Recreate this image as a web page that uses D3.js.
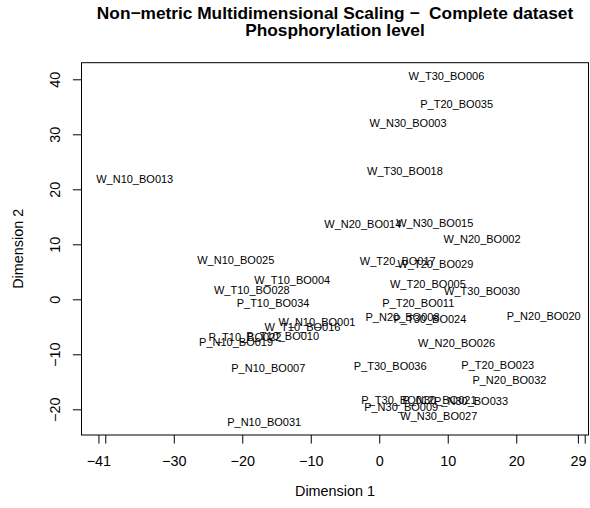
<!DOCTYPE html>
<html>
<head>
<meta charset="utf-8">
<script src="https://cdn.jsdelivr.net/npm/d3@7"></script>
<style>
  html, body { margin: 0; padding: 0; background: #fff; }
  svg { display: block; }
  text { font-family: "Liberation Sans", Arial, Helvetica, sans-serif; fill: #000; }
</style>
</head>
<body>
<svg id="chart" width="590" height="508"></svg>
<script>
// ---- data ----
const sampleNames = [
  "W_N10_BO013", "W_T30_BO006", "P_T20_BO035", "W_N30_BO003", "W_T30_BO018",
  "W_N20_BO014", "W_N30_BO015", "W_N20_BO002", "W_N10_BO025", "W_T10_BO004",
  "W_T10_BO028", "P_T10_BO034", "W_N10_BO001", "W_T10_BO016", "P_T10_BO022",
  "P_T10_BO010", "P_N10_BO019", "P_N10_BO007", "P_N10_BO031", "W_T20_BO017",
  "W_T20_BO029", "W_T20_BO005", "W_T30_BO030", "P_T20_BO011", "P_N20_BO008",
  "P_T30_BO024", "P_N20_BO020", "W_N20_BO026", "P_T30_BO036", "P_T20_BO023",
  "P_N20_BO032", "P_T30_BO012", "P_N30_BO009", "W_N30_BO027", "P_N30_BO021",
  "P_N30_BO033"
];
const dim1 = [
  -35.7, 9.8, 11.3, 4.2, 3.75,
  -2.4, 8.1, 15.0, -20.95, -12.7,
  -18.6, -15.5, -9.1, -11.2, -19.6,
  -14.1, -20.9, -16.2, -16.8, 2.7,
  8.2, 7.1, 15.0, 5.7, 3.4,
  7.4, 24.0, 11.3, 1.6, 17.3,
  19.0, 2.7, 3.2, 8.7, 8.8,
  13.4
];
const dim2 = [
  21.9, 40.6, 35.6, 32.0, 23.3,
  13.7, 13.9, 10.9, 7.15, 3.6,
  1.7, -0.7, -4.1, -5.1, -6.9,
  -6.6, -7.7, -12.4, -22.3, 7.0,
  6.5, 2.7, 1.5, -0.6, -3.3,
  -3.6, -3.0, -8.0, -12.1, -11.9,
  -14.7, -18.3, -19.5, -21.2, -18.3,
  -18.5
];
const xTickValues = [-41, -40, -30, -20, -10, 0, 10, 20, 29, 30];
const xTickLabels = ["\u221241", "", "\u221230", "\u221220", "\u221210", "0", "10", "20", "29", ""];
const yTickValues = [-20, -10, 0, 10, 20, 30, 40];
const yTickLabels = ["\u221220", "\u221210", "0", "10", "20", "30", "40"];
const titleLines = ["Non\u2212metric Multidimensional Scaling \u2212  Complete dataset", "Phosphorylation level"];
const xLabel = "Dimension 1";
const yLabel = "Dimension 2";

// ---- layout ----
const svg = d3.select("#chart");
const plot = { left: 81.5, right: 588.5, top: 62.7, bottom: 435 };
const x = d3.scaleLinear().domain([-43.47, 30.55]).range([plot.left, plot.right]);
const y = d3.scaleLinear().domain([-24.67, 43.02]).range([plot.bottom, plot.top]);

const tickLen = 8.6;
const axisFont = 14.4;

// x axis
const xAxis = d3.axisBottom(x)
  .tickValues(xTickValues)
  .tickFormat((d, i) => xTickLabels[i])
  .tickSize(tickLen)
  .tickSizeOuter(0)
  .tickPadding(12.5);
const gx = svg.append("g").attr("transform", `translate(0,${plot.bottom})`).call(xAxis);
gx.select(".domain").remove();
gx.selectAll(".tick line").attr("stroke", "#000").attr("stroke-width", 1);
gx.selectAll(".tick text")
  .style("font-size", axisFont + "px")
  .style("font-family", '"Liberation Sans", Arial, Helvetica, sans-serif')
  .attr("fill", "#000");

// y axis
const yAxis = d3.axisLeft(y)
  .tickValues(yTickValues)
  .tickFormat((d, i) => yTickLabels[i])
  .tickSize(tickLen)
  .tickSizeOuter(0);
const gy = svg.append("g").attr("transform", `translate(${plot.left},0)`).call(yAxis);
gy.select(".domain").remove();
gy.selectAll(".tick line").attr("stroke", "#000").attr("stroke-width", 1);
gy.selectAll(".tick text")
  .attr("x", 0).attr("dy", null).attr("y", 0)
  .attr("transform", "translate(" + (60 - plot.left) + ",0) rotate(-90)")
  .attr("text-anchor", "middle")
  .style("font-size", axisFont + "px")
  .style("font-family", '"Liberation Sans", Arial, Helvetica, sans-serif')
  .attr("fill", "#000");

// plot box
svg.append("rect")
  .attr("x", plot.left).attr("y", plot.top)
  .attr("width", plot.right - plot.left).attr("height", plot.bottom - plot.top)
  .attr("fill", "none").attr("stroke", "#000").attr("stroke-width", 1);

// labels as points
const data = sampleNames.map((n, i) => ({ name: n, d1: dim1[i], d2: dim2[i] }));
svg.append("g").selectAll("text")
  .data(data)
  .join("text")
  .attr("x", d => x(d.d1))
  .attr("y", d => y(d.d2))
  .attr("text-anchor", "middle")
  .attr("dominant-baseline", "central")
  .style("font-size", "11px")
  .text(d => d.name);

// axis titles
const midX = (plot.left + plot.right) / 2;
const midY = (plot.top + plot.bottom) / 2;
svg.append("text")
  .attr("x", midX).attr("y", 496)
  .attr("text-anchor", "middle")
  .style("font-size", axisFont + "px")
  .text(xLabel);
svg.append("text")
  .attr("transform", `translate(23,${midY}) rotate(-90)`)
  .attr("text-anchor", "middle")
  .style("font-size", axisFont + "px")
  .text(yLabel);

// title
svg.append("g").selectAll("text")
  .data(titleLines)
  .join("text")
  .attr("x", midX)
  .attr("y", (d, i) => 19 + i * 17.3)
  .attr("text-anchor", "middle")
  .style("font-size", "17.3px")
  .style("font-weight", "bold")
  .style("white-space", "pre")
  .attr("xml:space", "preserve")
  .text(d => d);
</script>
</body>
</html>
